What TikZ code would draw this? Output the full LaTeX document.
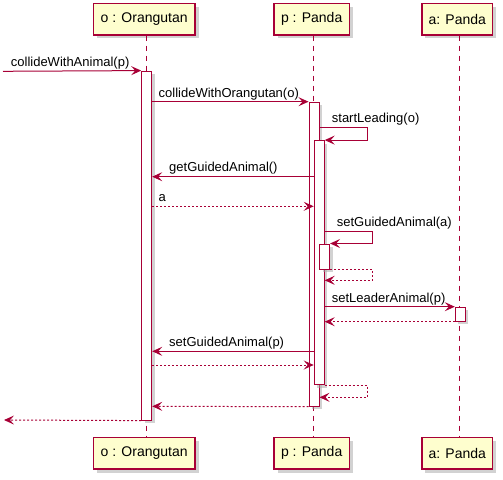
\documentclass[tikz,border=0pt]{standalone}
\usepackage{fontspec}
\setmainfont{Liberation Sans}
\usetikzlibrary{shadows}
\usetikzlibrary{arrows.meta}
\definecolor{umlred}{HTML}{A80036}
\definecolor{umlyellow}{HTML}{FEFECE}

\begin{document}
\begin{tikzpicture}[x=1pt, y=-1pt,
  participant/.style={draw=umlred, line width=1.5pt, fill=umlyellow, minimum height=31.5pt, inner sep=0pt,
     font=\fontsize{14}{16}\selectfont, drop shadow={shadow xshift=3.5pt, shadow yshift=-3.5pt, fill=black!35}},
  actbar/.style={draw=umlred, line width=1pt, fill=white, minimum width=10pt, inner sep=0pt,
     drop shadow={shadow xshift=3pt, shadow yshift=-3pt, fill=black!35}},
  lifeline/.style={draw=umlred, line width=1pt, dash pattern=on 5pt off 5pt},
  msg/.style={draw=umlred, line width=1pt, -{Stealth[length=10pt, width=9pt, inset=4pt]}},
  ret/.style={msg, dash pattern=on 2pt off 2pt},
  lbl/.style={anchor=base west, inner sep=0pt, font=\fontsize{13}{15}\selectfont}]

 \useasboundingbox (0,0) rectangle (503,479);

 %participants, top and bottom
 \foreach \n/\x/\w/\t in {o/144.2/101.7/{o : Orangutan}, p/311.7/75.3/{p : Panda}, a/457.3/70.7/{a: Panda}} {
    \node[participant, minimum width=\w] (top\n) at (\x,19.2) {\t};
    \node[participant, minimum width=\w] (bot\n) at (\x,453.3) {\t};
 }

 %lifelines
 \foreach \n/\x in {o/146, p/313, a/459} {
    \draw[lifeline] (top\n.south -| \x,0) -- (bot\n.north -| \x,0);
 }

 %activations
 \node[actbar, minimum height=349pt] (actO) at (146.7,245.6) {};
 \node[actbar, minimum height=304pt] (actP1) at (314,254.2) {};
 \node[actbar, minimum height=244pt] (actP2) at (319.2,262.6) {};
 \node[actbar, minimum height=25pt] (actP3) at (324.6,256.5) {};
 \node[actbar, minimum height=14pt] (actA) at (460.3,314.2) {};

 %message rows
 \foreach \n/\y in {m3/127.7, m4/176.7, m5/206.3, m6/231.7, m7/280.3, m10/351.3, m11/365, m12/397.3, m13/406.3}
    \coordinate (\n) at (0,\y);
 \coordinate (in) at (3,71.3);
 \coordinate (out) at (4,420);

 %messages
 \draw[msg] (in) -- (actO.north west);
 \node[lbl] (l1) at (10.7,66.8) {collideWithAnimal(p)};

 \draw[msg] (actO.east |- actP1.north) -- (actP1.north west);
 \node[lbl] (l2) at (158.5,97.5) {collideWithOrangutan(o)};

 \draw[msg] (actP1.east |- m3) -- ++(47.7,0) |- (actP2.north east);
 \node[lbl] (l3) at (331.7,122.7) {startLeading(o)};

 \draw[msg] (actP2.west |- m4) -- (actO.east |- m4);
 \node[lbl] (l4) at (169,171.5) {getGuidedAnimal()};

 \draw[ret] (actO.east |- m5) -- (actP2.west |- m5);
 \node[lbl] (l5) at (158.3,201.3) {a};

 \draw[msg] (actP2.east |- m6) -- ++(48,0) |- (actP3.north east);
 \node[lbl] (l6) at (336.7,226.5) {setGuidedAnimal(a)};

 \draw[ret] (actP3.south east) -- ++(42.5,0) |- (actP2.east |- m7);

 \draw[msg] (actP2.east |- actA.north) -- (actA.north west);
 \node[lbl] (l8) at (331.7,302.5) {setLeaderAnimal(p)};

 \draw[ret] (actA.south west) -- (actP2.east |- actA.south);

 \draw[msg] (actP2.west |- m10) -- (actO.east |- m10);
 \node[lbl] (l10) at (169,346.3) {setGuidedAnimal(p)};

 \draw[ret] (actO.east |- m11) -- (actP2.west |- m11);

 \draw[ret] (actP2.south east) -- ++(42.5,0) |- (actP1.east |- m12);

 \draw[ret] (actP1.south west) -- (actO.east |- m13);

 \draw[ret] (actO.south west) -- (out);

\end{tikzpicture}
\end{document}
